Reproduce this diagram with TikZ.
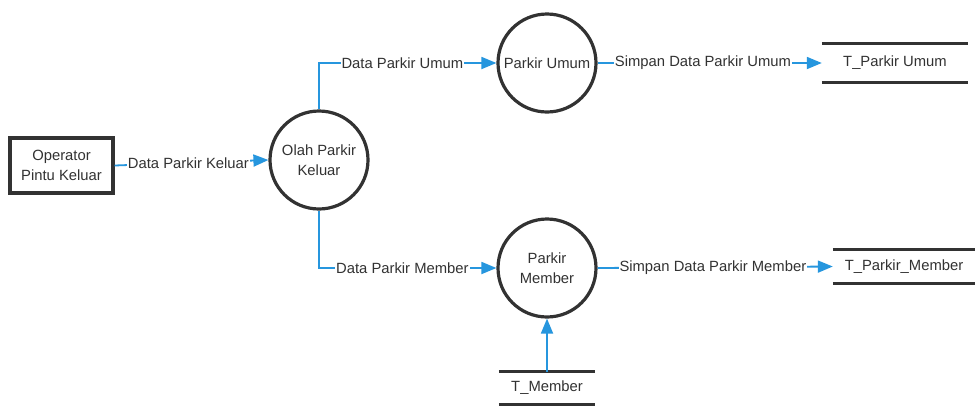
\documentclass[tikz,border=0pt]{standalone}
\usepackage{fontspec}
\setmainfont{Liberation Sans}
\usetikzlibrary{arrows.meta}
\definecolor{flowblue}{RGB}{38,150,222}
\definecolor{inkgray}{RGB}{50,50,50}
\tikzset{
  every node/.style={font=\fontsize{14.8}{20}\selectfont, text=inkgray},
  entity/.style={draw=inkgray, line width=3.2pt, minimum width=103pt, minimum height=55pt, align=center, inner sep=2pt},
  process/.style={draw=inkgray, line width=3.2pt, circle, minimum size=98pt, align=center, inner sep=1pt},
  datastore/.style={minimum height=36pt, inner sep=0pt},
  storeline/.style={draw=inkgray, line width=3.2pt},
  flow/.style={draw=flowblue, line width=1.8pt, -{Triangle[length=15pt,width=12pt]}},
  flowlabel/.style={fill=white, inner sep=1pt}
}
\begin{document}
\begin{tikzpicture}[x=1pt,y=-1pt]
\useasboundingbox[fill=white] (0,0) rectangle (976,405);

% external entity
\node[entity] (op) at (61.5,165.5) {Operator\\Pintu Keluar};

% processes
\node[process] (olah) at (319,160) {Olah Parkir\\Keluar};
\node[process] (umum) at (547,63) {Parkir Umum};
\node[process] (member) at (547,268) {Parkir\\Member};

% data stores
\node[datastore, minimum width=146pt, minimum height=38pt] (tpu) at (895,63) {T\_Parkir Umum};
\node[datastore, minimum width=142pt, minimum height=33pt] (tpm) at (904,266.5) {T\_Parkir\_Member};
\node[datastore, minimum width=96pt, minimum height=32pt] (tm) at (547,388) {T\_Member};
\foreach \s in {tpu,tpm,tm}{
  \draw[storeline] (\s.north west) -- (\s.north east);
  \draw[storeline] (\s.south west) -- (\s.south east);
}

% data flows
\draw[flow] (op.east) -- node[flowlabel, pos=0.48] {Data Parkir Keluar} (olah.west);
\draw[flow] (olah.north) |- node[flowlabel, pos=0.735] {Data Parkir Umum} (umum.west);
\draw[flow] (olah.south) |- node[flowlabel, pos=0.735] {Data Parkir Member} (member.west);
\draw[flow] (umum.east) -- node[flowlabel, pos=0.47] {Simpan Data Parkir Umum} (tpu.west);
\draw[flow] (member.east) -- node[flowlabel, pos=0.49] {Simpan Data Parkir Member} (tpm.west);
\draw[flow] (tm.north) -- (member.south);
\end{tikzpicture}
\end{document}
